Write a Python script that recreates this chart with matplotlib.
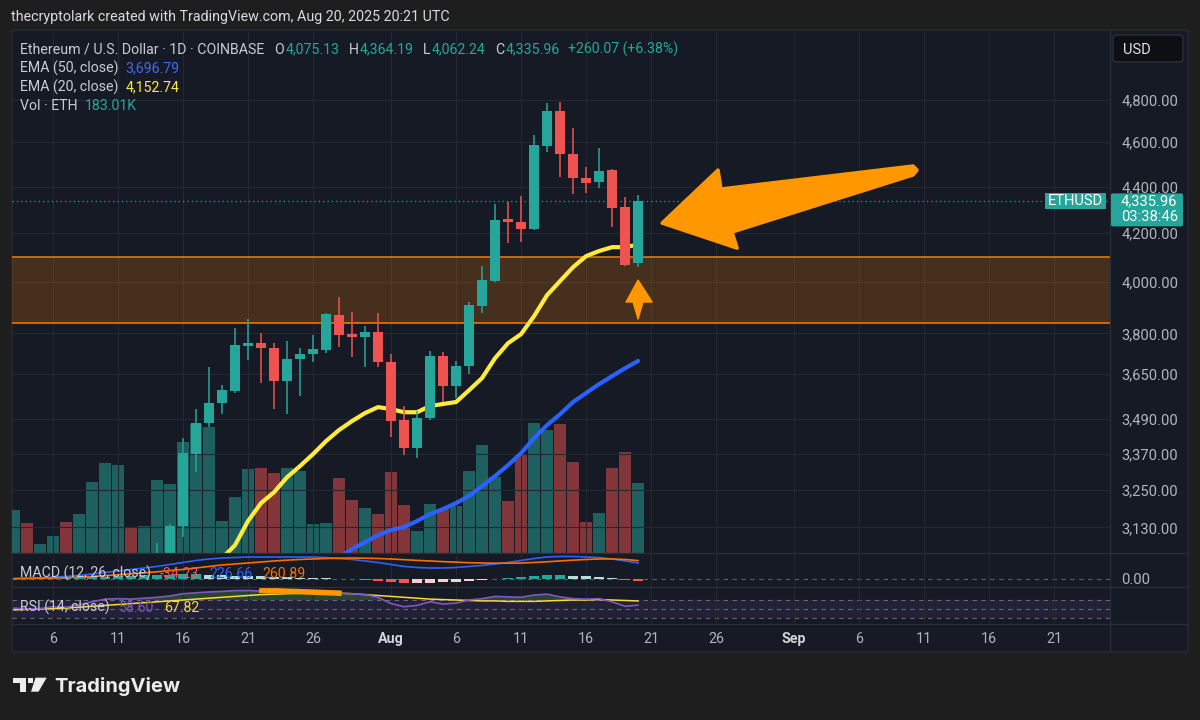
import numpy as np
import pandas as pd
import matplotlib
matplotlib.use('Agg')
import matplotlib.pyplot as plt
import matplotlib.dates as mdates
from matplotlib.patches import FancyBboxPatch, Polygon, Rectangle
from matplotlib.ticker import FixedLocator, FixedFormatter, NullLocator

W, H = 1200, 720
FONT = ['Roboto', 'DejaVu Sans']
plt.rcParams['font.family'] = FONT

# -----------------------------
# data (ETH/USD daily, Coinbase)
# -----------------------------
dates = pd.date_range("2025-07-03", "2025-08-20", freq="D")

opens = [2588, 2595, 2510, 2515, 2570, 2540, 2615, 2770, 2955, 2960, 2945, 2975, 3015,
         3134, 3368, 3474, 3544, 3587, 3752, 3763, 3744, 3623, 3704, 3722, 3737, 3870,
         3798, 3786, 3805, 3692, 3484, 3388, 3491, 3715, 3605, 3678, 3905, 4004, 4260,
         4247, 4218, 4583, 4746, 4546, 4438, 4421, 4474, 4312, 4075.13]
highs = [2640, 2600, 2535, 2580, 2585, 2630, 2790, 2985, 3020, 2970, 3000, 3081, 3140,
         3422, 3523, 3674, 3608, 3820, 3855, 3801, 3763, 3771, 3744, 3794, 3878, 3940,
         3882, 3828, 3878, 3722, 3534, 3516, 3733, 3730, 3696, 3921, 4064, 4324, 4333,
         4359, 4634, 4784, 4789, 4666, 4488, 4574, 4479, 4355, 4364.19]
lows = [2570, 2500, 2490, 2505, 2520, 2530, 2600, 2760, 2915, 2910, 2935, 2960, 2990,
        3100, 3308, 3460, 3505, 3580, 3700, 3616, 3523, 3505, 3569, 3692, 3726, 3748,
        3711, 3674, 3674, 3426, 3365, 3354, 3484, 3548, 3562, 3649, 3878, 4000, 4159,
        4163, 4214, 4555, 4443, 4368, 4372, 4394, 4226, 4064, 4062.24]
closes = [2595, 2510, 2515, 2570, 2540, 2615, 2770, 2955, 2960, 2945, 2975, 3015, 3134,
          3371, 3474, 3544, 3590, 3756, 3763, 3744, 3623, 3704, 3722, 3741, 3874, 3794,
          3786, 3805, 3692, 3481, 3388, 3491, 3715, 3605, 3678, 3909, 4008, 4256, 4247,
          4218, 4587, 4746, 4546, 4438, 4416, 4470, 4307, 4069, 4335.96]
# volume in thousands of ETH
volume = [112, 78, 24, 44, 81, 102, 186, 235, 230, 65, 71, 191, 180, 290, 337, 329, 84,
          146, 220, 222, 209, 222, 214, 76, 78, 196, 139, 118, 102, 212, 125, 58, 128,
          115, 123, 214, 282, 199, 136, 256, 340, 322, 337, 238, 81, 105, 222, 264, 183.01]

# EMA lines (visible part only)
ema20_start = 16
ema20 = [3035, 3075, 3150, 3207, 3242, 3291, 3328, 3368, 3412, 3450, 3481, 3509, 3530,
         3523, 3512, 3512, 3534, 3541, 3548, 3590, 3634, 3707, 3763, 3797, 3866, 3948,
         4004, 4060, 4105, 4126, 4142, 4142, 4152.74]
ema50_start = 25
ema50 = [3038, 3063, 3084, 3106, 3122, 3131, 3150, 3172, 3188, 3207, 3230, 3262, 3295,
         3331, 3371, 3422, 3467, 3505, 3548, 3580, 3612, 3641, 3670, 3696.79]

# MACD (12, 26, close)
macd = [7, 11, 17, 26, 36, 50, 71, 92, 114, 135, 156, 178, 206, 234, 263, 284, 298, 305,
        312, 312, 312, 312, 312, 312, 305, 291, 277, 256, 234, 206, 178, 163, 156, 156,
        163, 178, 192, 213, 234, 263, 291, 312, 320, 320, 312, 305, 284, 256, 226.66]
signal = [4, 7, 10, 14, 20, 26, 36, 47, 60, 74, 88, 102, 119, 136, 156, 178, 199, 213,
          227, 241, 256, 267, 277, 284, 291, 295, 298, 295, 291, 284, 274, 264, 256, 246,
          239, 231, 227, 224, 224, 227, 234, 244, 256, 267, 277, 284, 284, 277, 260.89]
hist = [5, 6, 8, 10, 12, 15, 22, 30, 38, 45, 50, 55, 60, 64, 66, 62, 55, 48, 42, 36, 30,
        24, 18, 12, 8, 4, -6, -18, -32, -50, -64, -60, -52, -44, -36, -26, -14, 6, 18, 28,
        40, 52, 58, 48, 36, 22, 8, -20, -34.23]

# RSI (14, close) and its moving average
rsi = [52, 50, 51, 55, 54, 59, 66, 72, 73, 72, 74, 76, 79, 84, 86, 88, 89, 91, 91, 90, 86,
       87, 88, 88, 89, 85, 84, 82, 76, 62, 55, 58, 66, 61, 63, 70, 73, 78, 77, 76, 81, 83,
       77, 73, 72, 73, 66, 56, 58.60]
rsi_ma = [48, 49, 50, 51, 52, 54, 56, 58, 60, 62, 64, 66, 68, 70, 72, 74, 76, 78, 80, 82,
          83, 84, 85, 86, 86, 85, 84, 82, 80, 78, 76, 74, 72, 71, 70, 69, 68, 68, 67, 67,
          67, 68, 69, 70, 70, 71, 70, 69, 67.82]

# support zone and axis labels
zone_low, zone_high = 3839, 4101
price_ticks = [3130, 3250, 3370, 3490, 3650, 3800, 4000, 4200, 4400, 4600, 4800]
tick_dates = pd.to_datetime(['2025-07-06', '2025-07-11', '2025-07-16', '2025-07-21',
                             '2025-07-26', '2025-08-01', '2025-08-06', '2025-08-11',
                             '2025-08-16', '2025-08-21', '2025-08-26', '2025-09-01',
                             '2025-09-06', '2025-09-11', '2025-09-16', '2025-09-21'])

# hand drawn annotations: (days after first candle, price)
big_arrow = [(49.85, 4243), (54.15, 4474), (54.38, 4390), (69.15, 4492), (69.46, 4474),
             (69.15, 4452), (55.23, 4205), (55.62, 4138)]
small_arrow = [(48.0, 4008), (49.08, 3921), (48.38, 3921), (48.0, 3855), (47.62, 3921),
               (47.08, 3921)]

# -----------------------------
# colours
# -----------------------------
BG = '#1e1e1e'
PANEL = '#161a25'
GRID = '#242834'
SEP = '#2a2e39'
TXT = '#c9ccd4'
AXTXT = '#b2b5be'
UP = '#26a69a'
DOWN = '#ef5350'
ORANGE = '#ff9800'


def fx(x):
    return x / W


def fy(y):
    return 1 - y / H


def rect(x0, y0, x1, y1):
    return [fx(x0), fy(y1), (x1 - x0) / W, (y1 - y0) / H]


fig = plt.figure(figsize=(W / 100, H / 100), dpi=100, facecolor=BG)

# chart panel background (below the axes)
fig.patches.append(FancyBboxPatch((fx(12), fy(652)), 1176 / W, 622 / H,
                                  boxstyle='round,pad=0,rounding_size=0.004',
                                  transform=fig.transFigure, fc=PANEL, ec=SEP, lw=0.8,
                                  zorder=-5))

xs = mdates.date2num(dates)
x0 = xs[0] - 0.154
x1 = xs[0] + 84.3
tick_nums = mdates.date2num(tick_dates)
up = np.array(closes) >= np.array(opens)

# volume pane (drawn first so it stays behind the candles)
ax_vol = fig.add_axes(rect(12, 32, 1110, 553), facecolor='none')
ax_vol.bar(xs, volume, width=0.86, color=np.where(up, UP, DOWN), alpha=0.5, zorder=1)
ax_vol.set_xlim(x0, x1)
ax_vol.set_ylim(0, 183.01 * 521 / 70)
ax_vol.axis('off')

# price pane
ax = fig.add_axes(rect(12, 32, 1110, 553), facecolor='none')
ax.set_yscale('log')
ax.set_xlim(x0, x1)
ax.set_ylim(3051, 5136)
ax.yaxis.set_major_locator(FixedLocator(price_ticks))
ax.yaxis.set_major_formatter(FixedFormatter([f"{v:,.2f}" for v in price_ticks]))
ax.yaxis.set_minor_locator(NullLocator())
ax.yaxis.tick_right()
ax.tick_params(axis='y', length=0, pad=8, labelsize=10.6, labelcolor=AXTXT)
ax.set_xticks(tick_nums)
ax.tick_params(axis='x', length=0, labelbottom=False)
ax.grid(True, color=GRID, lw=0.8, zorder=0)
ax.set_axisbelow(True)
for s in ax.spines.values():
    s.set_visible(False)

# support zone
ax.axhspan(zone_low, zone_high, fc='#f57c00', alpha=0.22, lw=0, zorder=1)
ax.axhline(zone_low, color='#f57c00', lw=1.1, zorder=1.5)
ax.axhline(zone_high, color='#f57c00', lw=1.1, zorder=1.5)

# last price dotted line
ax.axhline(closes[-1], color=UP, lw=0.9, ls=(0, (1, 2.5)), zorder=2)

# EMAs
ax.plot(xs[ema20_start:], ema20, color='#ffeb3b', lw=3, solid_capstyle='round', zorder=3)
ax.plot(xs[ema50_start:], ema50, color='#2962ff', lw=3, solid_capstyle='round', zorder=3)

# candles
ccol = np.where(up, UP, DOWN)
ax.vlines(xs, lows, highs, colors=ccol, lw=1.1, zorder=4)
body_lo = np.minimum(opens, closes)
body_h = np.maximum(np.abs(np.array(closes) - np.array(opens)), 3)
ax.bar(xs, body_h, bottom=body_lo, width=0.76, color=ccol, zorder=5)

# annotations
ax.add_patch(Polygon([(xs[0] + d, p) for d, p in big_arrow], closed=True, fc=ORANGE,
                     ec=ORANGE, lw=2.5, joinstyle='round', zorder=6))
ax.add_patch(Polygon([(xs[0] + d, p) for d, p in small_arrow], closed=True, fc=ORANGE,
                     ec=ORANGE, lw=1, joinstyle='round', zorder=6))

# last price labels (placed in pixels at the height of the last close)
last_y = H - ax.transData.transform((xs[-1], closes[-1]))[1]
fig.patches.append(Rectangle((fx(1045), fy(last_y + 8)), 61 / W, 16 / H,
                             transform=fig.transFigure, fc=UP, ec='none', zorder=5))
fig.text(fx(1075.5), fy(last_y), 'ETHUSD', color='white', fontsize=10.5, ha='center',
         va='center', zorder=6)
fig.patches.append(FancyBboxPatch((fx(1111), fy(last_y + 25)), 72 / W, 33 / H,
                                  boxstyle='round,pad=0,rounding_size=0.002',
                                  transform=fig.transFigure, fc=UP, ec='none', zorder=5))
fig.text(fx(1121), fy(last_y), '4,335.96', color='white', fontsize=10.6, ha='left',
         va='center', zorder=6)
fig.text(fx(1121), fy(last_y + 16), '03:38:46', color='white', fontsize=10.6, ha='left',
         va='center', zorder=6)

# MACD pane
ax_macd = fig.add_axes(rect(12, 553, 1110, 587), facecolor='none')
ax_macd.set_xlim(x0, x1)
ax_macd.set_ylim(-114, 369)
hcol = []
for i, h in enumerate(hist):
    prev = hist[i - 1] if i > 0 else h
    if h >= 0:
        hcol.append('#26a69a' if h >= prev else '#b2dfdb')
    else:
        hcol.append('#ff5252' if h <= prev else '#ffcdd2')
ax_macd.bar(xs, hist, width=0.76, color=hcol, zorder=2)
ax_macd.axhline(0, color='#5d606b', lw=0.8, ls=(0, (4, 4)), zorder=1)
ax_macd.plot(xs, macd, color='#2962ff', lw=1.2, zorder=3)
ax_macd.plot(xs, signal, color='#ff6d00', lw=1.2, zorder=3)
ax_macd.set_yticks([0])
ax_macd.set_yticklabels(['0.00'])
ax_macd.yaxis.tick_right()
ax_macd.tick_params(axis='y', length=0, pad=8, labelsize=10.6, labelcolor=AXTXT)
ax_macd.set_xticks(tick_nums)
ax_macd.tick_params(axis='x', length=0, labelbottom=False)
ax_macd.grid(True, axis='x', color=GRID, lw=0.8, zorder=0)
for s in ax_macd.spines.values():
    s.set_visible(False)

# RSI pane
ax_rsi = fig.add_axes(rect(12, 587, 1110, 624), facecolor='none')
ax_rsi.set_xlim(x0, x1)
ax_rsi.set_ylim(16.7, 98.9)
ax_rsi.axhspan(30, 70, fc='#7e57c2', alpha=0.12, lw=0, zorder=0.5)
for lvl in (30, 50, 70):
    ax_rsi.axhline(lvl, color='#787b86', lw=0.8, ls=(0, (4, 4)), alpha=0.8, zorder=1)
rsi_arr = np.array(rsi)
ax_rsi.fill_between(xs, 70, rsi_arr, where=rsi_arr > 70, interpolate=True,
                    color='#4caf50', alpha=0.3, lw=0, zorder=1.5)
ax_rsi.plot(xs, rsi_ma, color='#fdd835', lw=1.1, zorder=2)
ax_rsi.plot(xs, rsi, color='#7e57c2', lw=1.2, zorder=3)
ax_rsi.plot([xs[0] + 18.85, xs[0] + 25.2], [92, 85], color=ORANGE, lw=4,
            solid_capstyle='butt', zorder=4)
ax_rsi.set_yticks([])
ax_rsi.set_xticks(tick_nums)
ax_rsi.set_xticklabels([d.strftime('%b') if d.day == 1 else str(d.day) for d in tick_dates])
ax_rsi.tick_params(axis='x', length=0, pad=6, labelsize=10.3, labelcolor=AXTXT)
for lbl, d in zip(ax_rsi.get_xticklabels(), tick_dates):
    if d.day == 1:
        lbl.set_fontweight('bold')
        lbl.set_color('#d1d4dc')
ax_rsi.grid(True, axis='x', color=GRID, lw=0.8, zorder=0)
for s in ax_rsi.spines.values():
    s.set_visible(False)

# pane separators
for yy in (553, 587, 624):
    fig.add_artist(plt.Line2D([fx(12), fx(1188)], [fy(yy), fy(yy)], color=SEP, lw=0.9,
                              transform=fig.transFigure))
fig.add_artist(plt.Line2D([fx(1110), fx(1110)], [fy(30), fy(652)], color=SEP, lw=0.9,
                          transform=fig.transFigure))

# -----------------------------
# texts
# -----------------------------
renderer = fig.canvas.get_renderer()


def text_row(x, y, parts, size=10.2):
    for s, c, gap in parts:
        t = fig.text(fx(x), fy(y), s, color=c, fontsize=size, ha='left',
                     va='center_baseline', zorder=8)
        x += t.get_window_extent(renderer).width + gap


fig.text(fx(11), fy(15), 'thecryptolark created with TradingView.com, Aug 20, 2025 20:21 UTC',
         color='#d9dbe0', fontsize=10.3, ha='left', va='center_baseline')

text_row(20, 48, [('Ethereum / U.S. Dollar · 1D · COINBASE', TXT, 10),
                  ('O', TXT, 1.5), ('4,075.13', UP, 9),
                  ('H', TXT, 1.5), ('4,364.19', UP, 9),
                  ('L', TXT, 1.5), ('4,062.24', UP, 9),
                  ('C', TXT, 1.5), ('4,335.96', UP, 8),
                  ('+260.07 (+6.38%)', UP, 0)])
text_row(20, 67, [('EMA (50, close)', TXT, 7), ('3,696.79', '#3d6df2', 0)])
text_row(20, 86, [('EMA (20, close)', TXT, 7), ('4,152.74', '#ffeb3b', 0)])
text_row(20, 105, [('Vol · ETH', TXT, 7), ('183.01K', UP, 0)])
text_row(20, 572, [('MACD (12, 26, close)', TXT, 9), ('-34.23', '#ff5252', 10),
                   ('226.66', '#2962ff', 10), ('260.89', '#ff6d00', 0)])
text_row(20, 606, [('RSI (14, close)', TXT, 9), ('58.60', '#7e57c2', 10),
                   ('67.82', '#fdd835', 0)])

# currency box
fig.patches.append(FancyBboxPatch((fx(1113), fy(62)), 70 / W, 27 / H,
                                  boxstyle='round,pad=0,rounding_size=0.004',
                                  transform=fig.transFigure, fc='#0e0f12', ec='#30343f',
                                  lw=0.8, zorder=5))
fig.text(fx(1123), fy(49), 'USD', color='#e0e3eb', fontsize=10.5, ha='left',
         va='center_baseline', zorder=6)

# TradingView logo
logo = '#ececec'
fig.patches.append(Rectangle((fx(13.3), fy(682.7)), 12.4 / W, 5 / H,
                             transform=fig.transFigure, fc=logo, ec='none'))
fig.patches.append(Rectangle((fx(20), fy(691.7)), 5.7 / W, 14 / H,
                             transform=fig.transFigure, fc=logo, ec='none'))
fig.patches.append(Polygon([(fx(35.5), fy(677.7)), (fx(46.7), fy(677.7)),
                            (fx(38.5), fy(691.7)), (fx(31.0), fy(691.7))], closed=True,
                           transform=fig.transFigure, fc=logo, ec='none'))
fig.patches.append(Rectangle((fx(27.6), fy(682.6)), 5 / W, 5 / H,
                             transform=fig.transFigure, fc=logo, ec='none'))
fig.text(fx(54), fy(687), 'TradingView', color=logo, fontsize=14.5, fontweight='bold',
         ha='left', va='center', family=['Inter', 'DejaVu Sans'])

fig.savefig('out.png', dpi=100, facecolor=BG)
